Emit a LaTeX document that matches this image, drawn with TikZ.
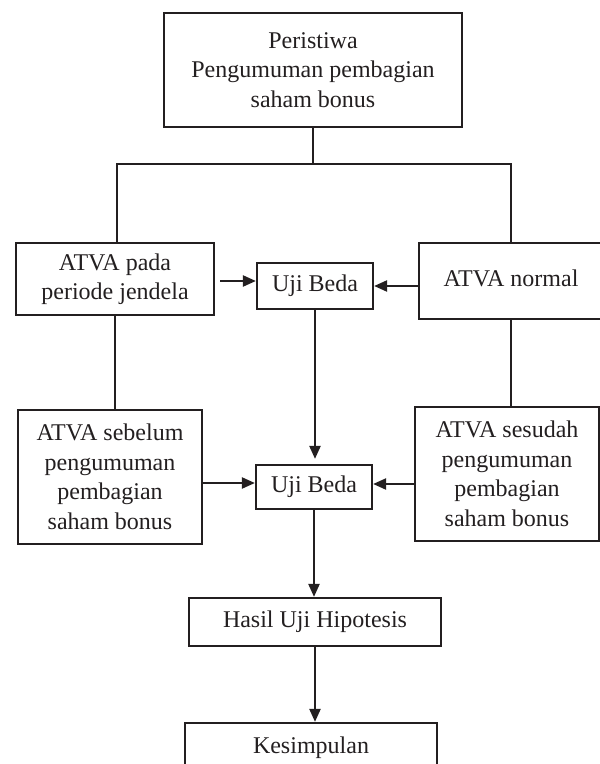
\documentclass[tikz,border=0pt]{standalone}
\usepackage{fontspec}
\setmainfont{Liberation Serif}
\usetikzlibrary{arrows.meta}
\definecolor{ink}{HTML}{231F20}
\tikzset{
  box/.style={draw=ink, line width=2.2pt, inner sep=0pt, align=center, text=ink,
    font=\fontsize{24}{29.5}\selectfont},
  link/.style={draw=ink, line width=2.2pt},
  arr/.style={link, -{Triangle[length=13pt,width=11pt]}},
}
\begin{document}
\begin{tikzpicture}[x=1pt,y=-1pt]
\useasboundingbox (0,0) rectangle (600,764);
\node[box, minimum width=298pt, minimum height=114pt] (top) at (313,70) {Peristiwa\\Pengumuman pembagian\\saham bonus};
\node[box, minimum width=198pt, minimum height=72pt] (L1) at (115,279) {ATVA pada\\periode jendela};
\node[box, minimum width=116pt, minimum height=46pt] (U1) at (315,286) {Uji Beda};
\node[box, minimum width=184pt, minimum height=76pt] (N) at (511,281) {\raisebox{6pt}{ATVA normal}};
\node[box, minimum width=184pt, minimum height=134pt] (L2) at (110,477) {ATVA sebelum\\pengumuman\\pembagian\\saham bonus};
\node[box, minimum width=116pt, minimum height=44pt] (U2) at (314,487) {\raisebox{3pt}{Uji Beda}};
\node[box, minimum width=184pt, minimum height=134pt] (R2) at (507,474) {ATVA sesudah\\pengumuman\\pembagian\\saham bonus};
\node[box, minimum width=252pt, minimum height=48pt] (H) at (315,622) {\raisebox{4pt}{Hasil Uji Hipotesis}};
\node[box, minimum width=252pt, minimum height=50pt] (K) at (311,748) {Kesimpulan};

\coordinate (jL) at (117,164);
\coordinate (jR) at (511,164);
\draw[link] (top.south) -- (top.south |- jL);
\draw[link] (L1.north -| jL) -- (jL) -- (jR) -- (N.north -| jR);
\draw[link] (L1.south) -- (L1.south |- L2.north);
\draw[link] (N.south) -- (N.south |- R2.north);
\draw[arr] ([xshift=5pt,yshift=-2pt]L1.east) -- ([yshift=-2pt]U1.west |- L1.east);
\draw[arr] (N.west |- U1.east) -- (U1.east);
\draw[arr, shorten >=5pt] (U1.south) -- (U1.south |- U2.north);
\coordinate (u2l) at ([yshift=4pt]U2.west);
\coordinate (u2r) at ([yshift=3pt]U2.east);
\draw[arr] (L2.east |- u2l) -- (u2l);
\draw[arr] (R2.west |- u2r) -- (u2r);
\draw[arr] (U2.south) -- (U2.south |- H.north);
\draw[arr] (H.south) -- (H.south |- K.north);
\end{tikzpicture}
\end{document}
